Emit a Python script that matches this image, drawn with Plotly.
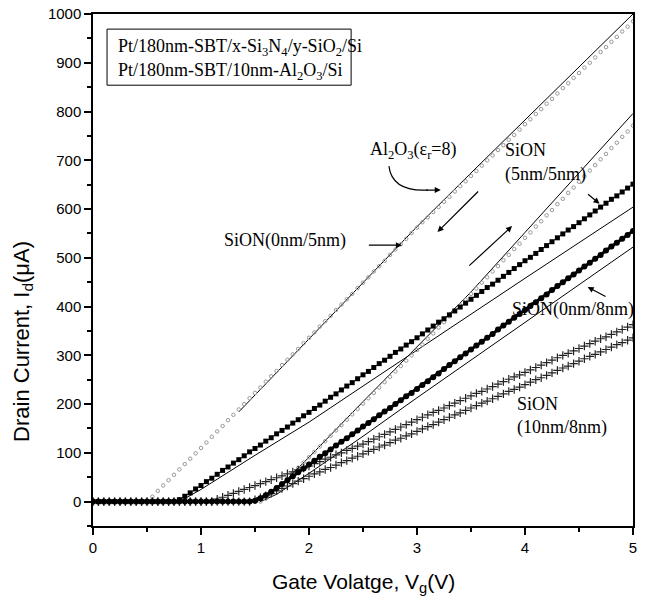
import numpy as np
import plotly.graph_objects as go

# Gate-voltage sweep: 0 to 5 V in 50 mV steps (101 points)
VG_STEP = 0.05
vg = np.round(np.arange(101) * VG_STEP, 2)

# ---- swept Id-Vg data (uA), one value per gate-voltage step ----
al2o3_sweep = [
    0, 0, 0, 0, 0, 0, 0, 0, 0, 0, 0,
    10, 22, 33, 44, 55, 66, 77, 88, 99, 110,
    121, 133, 144, 155, 167, 178, 189, 200, 212, 223,
    234, 246, 257, 268, 280, 291, 302, 313, 325, 336,
    347, 359, 370, 381, 393, 404, 415, 426, 438, 449,
    460, 472, 483, 494, 506, 517, 528, 539, 551, 562,
    573, 583, 594, 604, 615, 625, 636, 647, 657, 668,
    678, 689, 700, 710, 721, 731, 742, 752, 763, 774,
    784, 795, 805, 816, 826, 837, 848, 858, 869, 879,
    890, 900, 911, 922, 932, 943, 953, 964, 974, 985,
]

sion_5_5_sweep = [
    0, 0, 0, 0, 0, 0, 0, 0, 0, 0,
    0, 0, 0, 0, 0, 0, 0, 0, 0, 0,
    0, 0, 0, 0, 0, 0, 0, 0, 0, 0,
    0, 0,
    6, 15, 25, 36, 47, 58, 69, 80, 91,
    102, 113, 124, 135, 146, 157, 168, 179, 190, 201,
    212, 223, 234, 245, 256, 267, 278, 289, 300, 311,
    322, 334, 345, 357, 368, 380, 391, 403, 414, 426,
    437, 449, 460, 472, 483, 495, 506, 518, 529, 541,
    552, 564, 575, 587, 598, 610, 621, 633, 644, 656,
    667, 679, 690, 702, 713, 725, 736, 748, 759, 771,
]

sion_0_5_sweep = [
    0, 0, 0, 0, 0, 0, 0, 0, 0, 0,
    0, 0, 0, 0, 0, 0,
    4, 11, 18, 26, 33,
    41, 48, 56, 64, 71, 79, 86, 94, 102, 109,
    116, 124, 131, 139, 146, 153, 161, 168, 176, 183,
    191, 198, 206, 214, 221, 229, 237, 244, 252, 260,
    267, 275, 283, 290, 298, 306, 313, 321, 328, 336,
    344, 352, 360, 368, 375, 383, 391, 399, 407, 415,
    423, 431, 439, 446, 454, 462, 470, 478, 486, 494,
    501, 509, 517, 525, 533, 541, 549, 557, 564, 572,
    580, 588, 596, 604, 612, 620, 627, 635, 643, 651,
]

sion_0_8_sweep = [
    0, 0, 0, 0, 0, 0, 0, 0, 0, 0,
    0, 0, 0, 0, 0, 0, 0, 0, 0, 0,
    0, 0, 0, 0, 0, 0, 0, 0, 0, 0,
    2, 7, 13, 20, 28, 36, 44, 52, 60, 68, 76,
    84, 92, 99, 107, 115, 123, 130, 138, 146, 154,
    161, 169, 177, 185, 192, 200, 208, 216, 223, 231,
    239, 247, 255, 263, 272, 280, 288, 296, 304, 312,
    320, 328, 336, 344, 353, 361, 369, 377, 385, 393,
    401, 409, 417, 425, 434, 442, 450, 458, 466, 474,
    482, 490, 498, 506, 515, 523, 531, 539, 547, 555,
]

sion_10_8_up = [
    0, 0, 0, 0, 0, 0, 0, 0, 0, 0,
    0, 0, 0, 0, 0, 0, 0, 0, 0, 0,
    0, 0, 0,
    5, 9, 13, 17, 21, 25, 29, 33, 37, 41, 45, 49, 53, 57, 61, 65, 69, 73,
    78, 82, 87, 91, 96, 100, 105, 109, 114, 118,
    123, 128, 133, 138, 143, 148, 153, 158, 163, 168,
    173, 178, 183, 187, 192, 197, 202, 207, 212, 217,
    222, 226, 231, 236, 241, 246, 251, 256, 260, 265,
    270, 275, 280, 285, 290, 295, 300, 304, 309, 314,
    319, 324, 329, 334, 338, 343, 348, 353, 358, 363,
]

sion_10_8_down = [
    0, 0, 0, 0, 0, 0, 0, 0, 0, 0,
    0, 0, 0, 0, 0, 0, 0, 0, 0, 0,
    0, 0, 0, 0, 0, 0, 0, 0, 0, 0,
    4, 8, 12, 17, 22, 27, 32, 37, 42, 47, 52,
    57, 61, 66, 70, 75, 80, 84, 89, 93, 98,
    103, 107, 112, 116, 121, 126, 130, 135, 139, 144,
    149, 154, 158, 163, 168, 173, 178, 182, 187, 192,
    197, 202, 206, 211, 216, 221, 226, 230, 235, 240,
    245, 250, 254, 259, 264, 269, 274, 278, 283, 288,
    293, 298, 302, 307, 312, 317, 322, 326, 331, 336,
]

# ---- solid reference curves (uA) ----
al2o3_line_v = [1.35, 2.0, 2.5, 3.0, 3.5, 4.0, 4.5, 5.0]
al2o3_line_i = [184, 333, 448, 564, 674, 783, 891, 1000]

sion_5_5_line_v = [1.7, 2.0, 2.5, 3.0, 3.5, 4.0, 4.5, 5.0]
sion_5_5_line_i = [25, 91, 205, 318, 430, 552, 674, 796]

sion_0_5_line_v = [0.8, 1.0, 1.5, 2.0, 2.5, 3.0, 3.5, 4.0, 4.5, 5.0]
sion_0_5_line_i = [0, 25, 95, 163, 237, 311, 384, 458, 531, 604]

sion_0_8_line_v = [1.55, 1.7, 2.0, 2.5, 3.0, 3.5, 4.0, 4.5, 5.0]
sion_0_8_line_i = [0, 15, 58, 134, 213, 290, 368, 445, 522]

for s in (al2o3_sweep, sion_5_5_sweep, sion_0_5_sweep, sion_0_8_sweep,
          sion_10_8_up, sion_10_8_down):
    assert len(s) == len(vg), len(s)

SERIF = "Liberation Serif"
SANS = "Liberation Sans"

fig = go.Figure()

# thin solid curves
for xv, yv in ((al2o3_line_v, al2o3_line_i), (sion_5_5_line_v, sion_5_5_line_i),
               (sion_0_5_line_v, sion_0_5_line_i), (sion_0_8_line_v, sion_0_8_line_i)):
    fig.add_trace(go.Scatter(x=xv, y=yv, mode="lines",
                             line=dict(color="black", width=1), showlegend=False))

# light grey dotted sweeps
for yv in (al2o3_sweep, sion_5_5_sweep):
    fig.add_trace(go.Scatter(x=vg, y=yv, mode="markers", showlegend=False,
                             marker=dict(symbol="circle-open", size=3.5, color="#999999",
                                         line=dict(width=1, color="#999999"))))

# crosses
for yv in (sion_10_8_up, sion_10_8_down):
    fig.add_trace(go.Scatter(x=vg, y=yv, mode="markers", showlegend=False,
                             marker=dict(symbol="cross-thin-open", size=6, color="#222222",
                                         line=dict(width=1.2, color="#222222"))))

# black squares
fig.add_trace(go.Scatter(x=vg, y=sion_0_5_sweep, mode="lines+markers", showlegend=False,
                         line=dict(color="black", width=1),
                         marker=dict(symbol="square", size=5, color="black")))

# heavy black curve
fig.add_trace(go.Scatter(x=vg, y=sion_0_8_sweep, mode="lines+markers", showlegend=False,
                         line=dict(color="black", width=3),
                         marker=dict(symbol="circle", size=6, color="black")))

ann_font = dict(family=SERIF, size=18, color="black")
annotations = [
    # sample box text
    dict(x=0.21, y=932, xanchor="left", yanchor="middle", showarrow=False,
         text="Pt/180nm-SBT/x-Si<sub>3</sub>N<sub>4</sub>/y-SiO<sub>2</sub>/Si", font=ann_font),
    dict(x=0.21, y=883, xanchor="left", yanchor="middle", showarrow=False,
         text="Pt/180nm-SBT/10nm-Al<sub>2</sub>O<sub>3</sub>/Si", font=ann_font),
    # curve labels
    dict(x=2.97, y=721, showarrow=False, text="Al<sub>2</sub>O<sub>3</sub>(ε<sub>r</sub>=8)",
         font=ann_font),
    dict(x=1.78, y=536, showarrow=False, text="SiON(0nm/5nm)", font=ann_font),
    dict(x=3.80, y=721, xanchor="left", showarrow=False, text="SiON", font=ann_font),
    dict(x=3.80, y=670, xanchor="left", showarrow=False, text="(5nm/5nm)", font=ann_font),
    dict(x=4.44, y=395, showarrow=False, text="SiON(0nm/8nm)", font=ann_font),
    dict(x=3.91, y=200, xanchor="left", showarrow=False, text="SiON", font=ann_font),
    dict(x=3.91, y=151, xanchor="left", showarrow=False, text="(10nm/8nm)", font=ann_font),
    # axis titles
    dict(xref="paper", yref="paper", x=0.5, y=-0.111, xanchor="center", yanchor="middle",
         showarrow=False, text="Gate Volatge, V<sub>g</sub>(V)",
         font=dict(family=SANS, size=21, color="black")),
    dict(xref="paper", yref="paper", x=-0.131, y=0.36, xanchor="center", yanchor="middle",
         showarrow=False, textangle=-90, text="Drain Current, I<sub>d</sub>(μA)",
         font=dict(family=SANS, size=22, color="black")),
]

# arrows: (tail_x, tail_y, head_x, head_y)
arrows = [
    (2.54, 526, 2.86, 526),
    (3.07, 639, 3.22, 639),
    (3.58, 639, 3.19, 553),
    (3.47, 481, 3.88, 565),
    (4.57, 633, 4.69, 611),
    (4.76, 419, 4.58, 440),
]
for tx, ty, hx, hy in arrows:
    annotations.append(dict(x=hx, y=hy, ax=tx, ay=ty, xref="x", yref="y",
                            axref="x", ayref="y", text="", showarrow=True,
                            arrowhead=2, arrowsize=1, arrowwidth=1.2, arrowcolor="black"))

shapes = [
    dict(type="rect", xref="x", yref="y", x0=0.13, x1=2.39, y0=854, y1=969,
         line=dict(color="black", width=1), fillcolor="white", layer="above"),
    dict(type="path", xref="x", yref="y", path="M 2.74,688 Q 2.77,635 3.10,639",
         line=dict(color="black", width=1.2)),
]

axis_common = dict(showgrid=False, zeroline=False, showline=True, linecolor="black",
                   linewidth=1.5, mirror=True, ticks="outside", ticklen=7, tickwidth=1.5,
                   tickcolor="black", tickfont=dict(family=SANS, size=15, color="black"))

fig.update_layout(
    width=671, height=598,
    margin=dict(l=93, r=38, t=14, b=72, autoexpand=False),
    paper_bgcolor="white", plot_bgcolor="white",
    annotations=annotations, shapes=shapes,
    xaxis=dict(range=[0, 5], tick0=0, dtick=1,
               minor=dict(dtick=0.5, ticklen=4, ticks="outside", tickcolor="black", tickwidth=1.5),
               **axis_common),
    yaxis=dict(range=[-50, 1000], tick0=0, dtick=100,
               minor=dict(dtick=50, ticklen=4, ticks="outside", tickcolor="black", tickwidth=1.5),
               **axis_common),
)

fig.write_html("out.html")
